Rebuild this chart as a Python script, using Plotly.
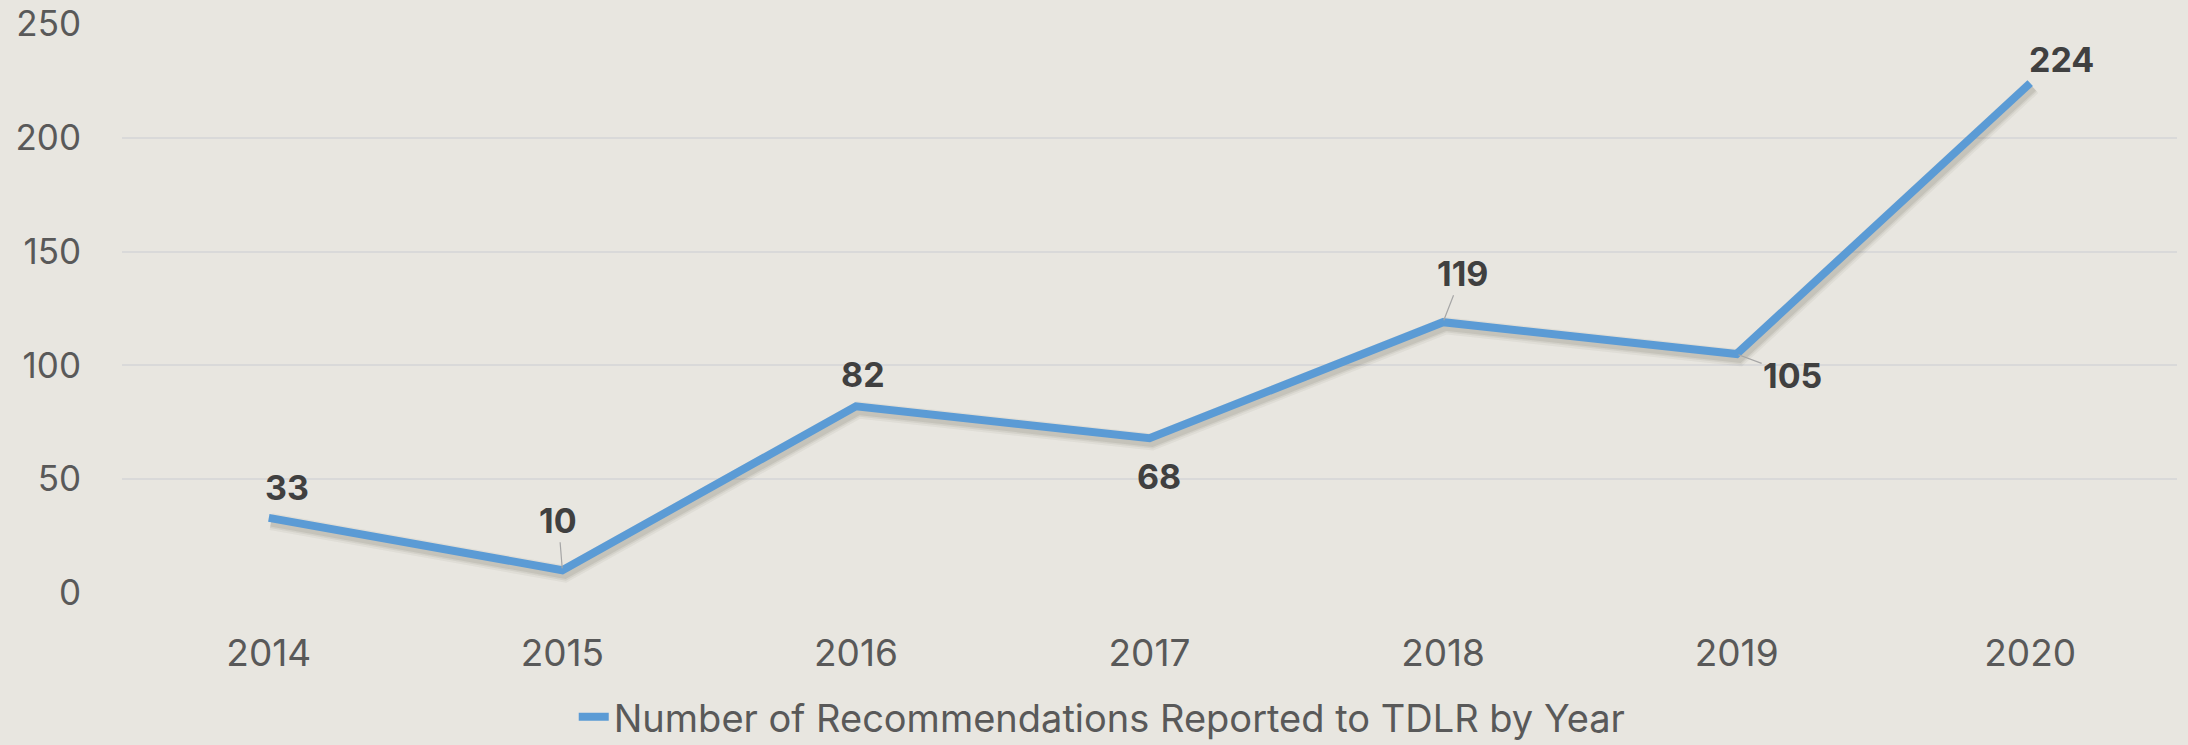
import plotly.graph_objects as go

years = ["2014", "2015", "2016", "2017", "2018", "2019", "2020"]
values = [33, 10, 82, 68, 119, 105, 224]
series_name = "Number of Recommendations Reported to TDLR by Year"
y_ticks = [0, 50, 100, 150, 200, 250]

# label placement (pixel offsets of label centre relative to its point) and leader flag
label_dx = [18, -4, 7, 9, 19, 56, 31]
label_dy = [-30, -50, -32, 38, -49, 21, -24]
label_leader = [False, True, False, False, True, True, False]

BG = "#E8E6E0"
LINE = "#5B9BD5"
FONT = "Inter"
xs = list(range(len(years)))

fig = go.Figure()
# soft shadow under the line
for w, a in [(17, 0.05), (13, 0.07), (10, 0.09)]:
    fig.add_trace(go.Scatter(
        x=[x + 0.008 for x in xs], y=[v - 1.6 for v in values], mode="lines",
        line=dict(color=f"rgba(60,50,40,{a})", width=w), showlegend=False, hoverinfo="skip"))
fig.add_trace(go.Scatter(
    x=xs, y=values, mode="lines", name=series_name,
    line=dict(color=LINE, width=8)))

for x, v, dx, dy, lead in zip(xs, values, label_dx, label_dy, label_leader):
    if lead:
        fig.add_annotation(x=x, y=v, text=f"<b>{v}</b>", showarrow=True,
                           ax=dx, ay=dy, arrowhead=0, arrowwidth=1.2,
                           arrowcolor="#A6A6A6", standoff=2,
                           font=dict(family=FONT, size=34, color="#404040"))
    else:
        fig.add_annotation(x=x, y=v, text=f"<b>{v}</b>", showarrow=False,
                           xshift=dx, yshift=-dy,
                           font=dict(family=FONT, size=34, color="#404040"))

fig.update_layout(
    width=2188, height=745,
    paper_bgcolor=BG, plot_bgcolor=BG,
    margin=dict(l=122, r=11, t=24, b=152, autoexpand=False),
    font=dict(family=FONT, color="#595959", size=32),
    showlegend=True,
    legend=dict(orientation="h", x=0.477, xanchor="center", y=-0.218, yanchor="middle",
                font=dict(size=38, color="#595959"), bgcolor="rgba(0,0,0,0)"),
)
fig.update_xaxes(range=[-0.5, 6.5], tickmode="array", tickvals=xs, ticktext=years,
                 showgrid=False, zeroline=False, showline=False, automargin=False,
                 ticklabelstandoff=35, tickfont=dict(size=37, color="#595959"))
fig.update_yaxes(range=[0, 250], tickvals=y_ticks, showgrid=True, gridcolor="#D9D9D9",
                 gridwidth=2, zeroline=False, showline=False, automargin=False,
                 ticklabelstandoff=40, tickfont=dict(size=35, color="#595959"))

fig.write_html("out.html", config={"displayModeBar": False},
               post_script="document.body.style.margin='0';document.body.style.background='%s';" % BG)
